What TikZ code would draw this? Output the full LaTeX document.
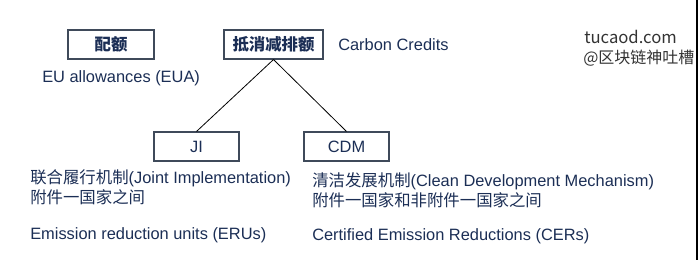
\documentclass[tikz,border=0pt]{standalone}
\usepackage{fontspec}
\setmainfont{Liberation Sans}
\newfontfamily\cjk{Noto Sans CJK SC}
\usetikzlibrary{positioning}
\definecolor{cnavy}{HTML}{1B2E55}
\definecolor{cframe}{HTML}{3F4A5A}
\definecolor{cmark}{HTML}{333333}
\tikzset{
  termbox/.style={draw=cframe, line width=0.8pt, inner sep=0pt, minimum height=29*0.75pt,
    text=cnavy, font=\fontsize{12.3}{14}\selectfont},
  desc/.style={anchor=west, inner sep=0pt, text=cnavy, align=left,
    font=\fontsize{12.3}{15}\selectfont},
  branch/.style={draw=black, line width=0.6pt}
}
\begin{document}
\begin{tikzpicture}[x=0.75pt, y=-0.75pt]
  \useasboundingbox (0,0) rectangle (700,260);
  % top row
  \node[termbox, minimum width=86*0.75pt] (quota) at (111,44.5) {\cjk\bfseries 配额};
  \node[termbox, minimum width=99*0.75pt] (offset) at (273.5,44.5) {\cjk\bfseries 抵消减排额};
  \node[desc] (cc) at (338,45) {Carbon Credits};
  \node[desc] (eua) at (42,78) {EU allowances (EUA)};

  % mechanisms
  \node[termbox, minimum width=85*0.75pt] (ji) at (196.5,146.5) {JI};
  \node[termbox, minimum width=85*0.75pt] (cdm) at (346.5,146.5) {CDM};
  \draw[branch] (offset.south) -- (ji.north);
  \draw[branch] (offset.south) -- (cdm.north);

  \node[desc] (jitext) at (30,187) {{\cjk 联合履行机制}(Joint Implementation)\\{\cjk 附件一国家之间}};
  \node[desc] (eru) at (30,235) {Emission reduction units (ERUs)};
  \node[desc] (cdmtext) at (312,190) {{\cjk 清洁发展机制}(Clean Development Mechanism)\\{\cjk 附件一国家和非附件一国家之间}};
  \node[desc] (cer) at (312,236) {Certified Emission Reductions (CERs)};

  % watermark
  \node[anchor=west, inner sep=0pt, text=cmark, font=\cjk\fontsize{12.5}{15}\selectfont] (site) at (584,37) {tucaod.com};
  \node[anchor=west, inner sep=0pt, text=cmark, font=\cjk\fontsize{12}{15}\selectfont] (handle) at (583,58) {@区块链神吐槽};
  \draw[line width=1.5pt] (697,0) -- (697,260);
\end{tikzpicture}
\end{document}
